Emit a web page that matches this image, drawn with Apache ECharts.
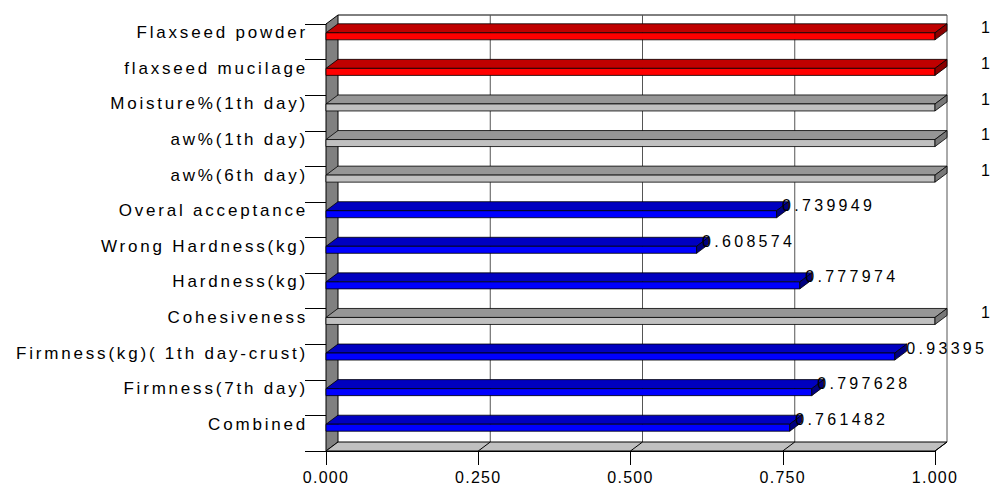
<!DOCTYPE html>
<html>
<head>
<meta charset="utf-8">
<script src="https://cdn.jsdelivr.net/npm/echarts@6/dist/echarts.min.js"></script>
<style>
html,body{margin:0;padding:0;background:#fff;}
#chart{width:994px;height:485px;}
</style>
</head>
<body>
<div id="chart"></div>
<script>
// ---- data ----
const categories = [
  'Flaxseed powder',
  'flaxseed mucilage',
  'Moisture%(1th day)',
  'aw%(1th day)',
  'aw%(6th day)',
  'Overal acceptance',
  'Wrong Hardness(kg)',
  'Hardness(kg)',
  'Cohesiveness',
  'Firmness(kg)( 1th day-crust)',
  'Firmness(7th day)',
  'Combined'
];
const values = [1, 1, 1, 1, 1, 0.739949, 0.608574, 0.777974, 1, 0.93395, 0.797628, 0.761482];
const barGroup = ['red', 'red', 'gray', 'gray', 'gray', 'blue', 'blue', 'blue', 'gray', 'blue', 'blue', 'blue'];
const xTicks = [0, 0.25, 0.5, 0.75, 1];
const xMin = 0, xMax = 1, xInterval = 0.25;

// ---- styles ----
const palette = {
  red:  {front: '#FF0000', top: '#C00000', end: '#8A0000'},
  gray: {front: '#C0C0C0', top: '#969696', end: '#787878'},
  blue: {front: '#0000FF', top: '#0000C0', end: '#000080'}
};
const DX = 12, DY = -9;
const FONT = '"Liberation Sans", Arial, sans-serif';

const chart = echarts.init(document.getElementById('chart'), null, {renderer: 'svg'});

function frameItem(params, api) {
  const n = categories.length;
  const band = api.size([0, 1])[1];
  const yTop = api.coord([xMin, 0])[1] - band / 2;
  const yBot = api.coord([xMin, n - 1])[1] + band / 2;
  const x0 = api.coord([xMin, 0])[0];
  const x1 = api.coord([xMax, 0])[0];
  const children = [];
  // back wall
  children.push({type: 'polygon', shape: {points: [[x0 + DX, yTop + DY], [x1 + DX, yTop + DY], [x1 + DX, yBot + DY], [x0 + DX, yBot + DY]]},
    style: {fill: '#FFFFFF', stroke: null}});
  children.push({type: 'line', shape: {x1: x0 + DX, y1: yTop + DY, x2: x1 + DX, y2: yTop + DY}, style: {stroke: '#000', lineWidth: 1}});
  // back wall gridlines
  xTicks.forEach(v => {
    if (v === xMin) return;
    const x = api.coord([v, 0])[0];
    children.push({type: 'line', shape: {x1: x + DX, y1: yTop + DY, x2: x + DX, y2: yBot + DY}, style: {stroke: '#555', lineWidth: 1}});
  });
  // side wall
  children.push({type: 'polygon', shape: {points: [[x0, yTop], [x0 + DX, yTop + DY], [x0 + DX, yBot + DY], [x0, yBot]]},
    style: {fill: '#808080', stroke: '#000', lineWidth: 1}});
  // floor
  children.push({type: 'polygon', shape: {points: [[x0, yBot], [x0 + DX, yBot + DY], [x1 + DX, yBot + DY], [x1, yBot]]},
    style: {fill: '#C0C0C0', stroke: '#000', lineWidth: 1}});
  // floor gridlines
  xTicks.forEach(v => {
    if (v === xMin) return;
    const x = api.coord([v, 0])[0];
    children.push({type: 'line', shape: {x1: x + DX, y1: yBot + DY, x2: x, y2: yBot}, style: {stroke: '#000', lineWidth: 1}});
  });
  return {type: 'group', children};
}

function barItem(params, api) {
  const v = api.value(0);
  const i = api.value(1);
  const p = api.coord([v, i]);
  const xe = p[0], c = p[1];
  const xs = api.coord([xMin, i])[0];
  const band = api.size([0, 1])[1];
  const ft = c - band * 0.253;
  const fb = c - band * 0.056;
  const col = palette[barGroup[i]];
  const line = {stroke: '#000', lineWidth: 0.8};
  return {
    type: 'group',
    children: [
      {type: 'polygon', shape: {points: [[xs, ft], [xs + DX, ft + DY], [xe + DX, ft + DY], [xe, ft]]}, style: Object.assign({fill: col.top}, line)},
      {type: 'polygon', shape: {points: [[xs, ft], [xe, ft], [xe, fb], [xs, fb]]}, style: Object.assign({fill: col.front}, line)},
      {type: 'polygon', shape: {points: [[xe, ft], [xe + DX, ft + DY], [xe + DX, fb + DY], [xe, fb]]}, style: Object.assign({fill: col.end}, line)},
      {type: 'text', x: xe + 52, y: c - band * 0.39, z2: 10,
        style: {text: String(v), fill: '#000', font: '16px ' + FONT, align: 'center', verticalAlign: 'middle'}}
    ]
  };
}

const option = {
  animation: false,
  backgroundColor: '#FFFFFF',
  grid: {left: 326, right: 59, top: 24, bottom: 34, containLabel: false},
  xAxis: {
    type: 'value', min: xMin, max: xMax, interval: xInterval,
    axisLine: {show: true, lineStyle: {color: '#000', width: 1}},
    axisTick: {show: true, length: 14, lineStyle: {color: '#000', width: 1}},
    splitLine: {show: false},
    axisLabel: {formatter: v => v.toFixed(3), color: '#000', fontSize: 16, fontFamily: FONT, margin: 18}
  },
  yAxis: {
    type: 'category', data: categories, inverse: true,
    axisLine: {show: true, lineStyle: {color: '#000', width: 1}},
    axisTick: {show: true, length: 21, interval: 0, lineStyle: {color: '#000', width: 1}},
    axisLabel: {color: '#000', fontSize: 17, fontFamily: FONT, margin: 18, interval: 0,
      verticalAlign: 'bottom', lineHeight: 18}
  },
  series: [
    {type: 'custom', renderItem: frameItem, data: [[0, 0]], clip: false, z: 1, silent: true},
    {type: 'custom', renderItem: barItem, data: values.map((v, i) => [v, i]), clip: false, z: 3, silent: true}
  ]
};
chart.setOption(option);

function applySpacing() {
  document.querySelectorAll('#chart text').forEach(t => {
    const s = t.textContent;
    let ls;
    if (categories.includes(s)) ls = '2.8px';
    else if (/^\d\.\d{3}$/.test(s)) ls = '1.25px';
    else ls = '3.3px';
    t.setAttribute('letter-spacing', ls);
    t.style.letterSpacing = ls;
  });
}
applySpacing();
chart.on('finished', applySpacing);
requestAnimationFrame(applySpacing);
setTimeout(applySpacing, 50);
</script>
</body>
</html>
